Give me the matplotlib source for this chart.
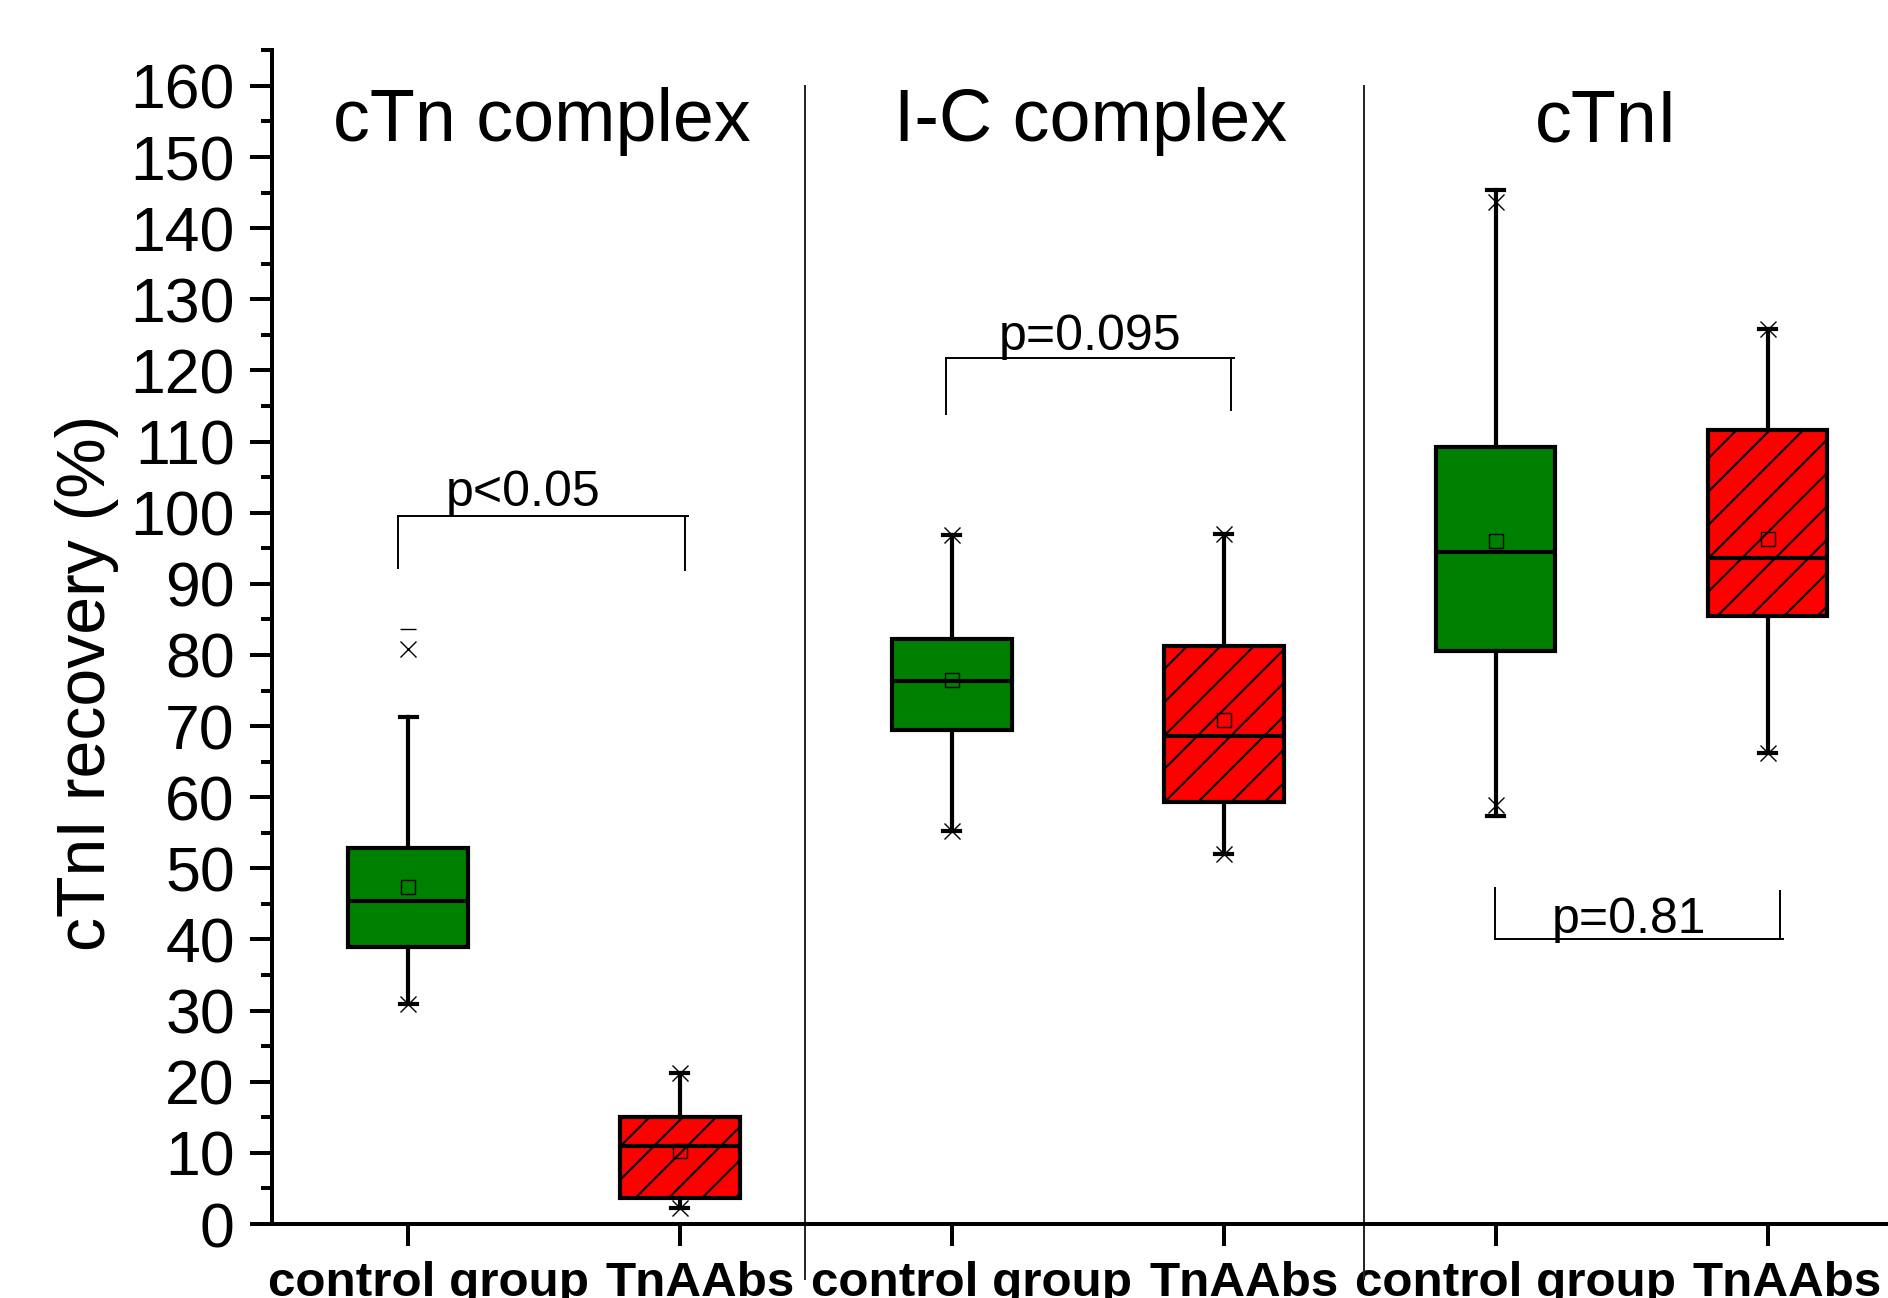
import matplotlib
matplotlib.use('Agg')
import matplotlib.pyplot as plt
import matplotlib.transforms as mtransforms
from matplotlib.ticker import MultipleLocator

plt.rcParams['font.family'] = ['Liberation Sans', 'DejaVu Sans']
plt.rcParams['hatch.linewidth'] = 0.75
plt.rcParams['hatch.color'] = 'black'

# data (cTnI recovery, %)
panels = ['cTn complex', 'I-C complex', 'cTnI']
groups = ['control group', 'TnAAbs', 'control group', 'TnAAbs', 'control group', 'TnAAbs']
positions = [1, 2, 3, 4, 5, 6]
q1 = [38.9, 3.6, 69.4, 59.3, 80.6, 85.5]
medians = [45.4, 11.0, 76.4, 68.6, 94.5, 93.6]
q3 = [52.8, 15.1, 82.3, 81.3, 109.2, 111.6]
means = [47.4, 10.2, 76.5, 70.9, 96.0, 96.3]
whis_lo = [31.0, 2.2, 55.2, 52.0, 57.4, 66.2]
whis_hi = [71.3, 21.3, 96.9, 97.0, 145.4, 125.8]
pct_lo = [31.0, 2.2, 55.2, 52.0, 58.9, 66.2]     # x markers
pct_hi = [80.9, 21.3, 96.9, 97.0, 143.7, 125.8]
extra_max_x = [1]
extra_max_y = [83.7]
box_colors = ['#008000', '#ff0000'] * 3
box_hatch = ['', '//'] * 3

# significance brackets
p_texts = ['p<0.05', 'p=0.095', 'p=0.81']
br_x0 = [0.965, 2.979, 4.998]
br_x1 = [2.028, 4.037, 6.056]
br_y = [99.6, 121.8, 40.06]
br_leg_l = [92.2, 113.9, 47.2]
br_leg_r = [91.9, 114.5, 46.8]
p_text_x = [1.425, 3.51, 5.489]
p_text_y = [101.0, 122.9, 40.9]

title_x = [1.492, 3.51, 5.409]
title_y = 152.2
dividers = [2.46, 4.517]

fig = plt.figure(figsize=(9.44, 6.49), dpi=200)
ax = fig.add_axes([0.1441, 0.0570, 0.8559, 0.9042])

stats = []
for i in range(len(positions)):
    stats.append({'med': medians[i], 'q1': q1[i], 'q3': q3[i],
                  'whislo': whis_lo[i], 'whishi': whis_hi[i],
                  'mean': means[i], 'fliers': []})

bp = ax.bxp(stats, positions=positions, widths=0.44, capwidths=0.0625,
            patch_artist=True, showmeans=True, showfliers=False,
            boxprops=dict(edgecolor='black', linewidth=1.5),
            whiskerprops=dict(color='black', linewidth=1.5),
            capprops=dict(color='black', linewidth=1.5),
            medianprops=dict(color='black', linewidth=1.5),
            meanprops=dict(marker='s', markerfacecolor='none',
                           markeredgecolor='black', markersize=4.8,
                           markeredgewidth=0.5))
for patch, c, h in zip(bp['boxes'], box_colors, box_hatch):
    patch.set_facecolor(c)
    patch.set_hatch(h)

# percentile markers (x) and max marker (-)
ax.plot(positions, pct_lo, linestyle='none', marker='x', color='black',
        markersize=6, markeredgewidth=0.5, zorder=5)
ax.plot(positions, pct_hi, linestyle='none', marker='x', color='black',
        markersize=6, markeredgewidth=0.5, zorder=5)
ax.plot(extra_max_x, extra_max_y, linestyle='none', marker='_', color='black',
        markersize=6, markeredgewidth=0.5, zorder=5)

# brackets
for i in range(3):
    ax.plot([br_x0[i], br_x1[i]], [br_y[i], br_y[i]], color='black', lw=0.7)
    ax.plot([br_x0[i], br_x0[i]], [br_y[i], br_leg_l[i]], color='black', lw=0.7)
    ax.plot([br_x1[i] - 0.01, br_x1[i] - 0.01], [br_y[i], br_leg_r[i]], color='black', lw=0.7)
    ax.text(p_text_x[i], p_text_y[i], p_texts[i], fontsize=18,
            ha='center', va='baseline')

# panel titles and dividers
for x, t in zip(title_x, panels):
    ax.text(x, title_y, t, fontsize=26.5, ha='center', va='baseline')
for d in dividers:
    ax.plot([d, d], [-7.8, 160], color='#222222', lw=0.7, clip_on=False)

ax.set_xlim(0.5, 6.443)
ax.set_ylim(0, 165)
ax.set_xticks(positions)
ax.set_xticklabels(groups, fontsize=17.8, fontweight='bold')
ax.yaxis.set_major_locator(MultipleLocator(10))
ax.yaxis.set_minor_locator(MultipleLocator(5))
ax.set_yticks(range(0, 161, 10))
ax.tick_params(axis='y', which='major', length=7.9, width=1.44,
               labelsize=22.5, pad=5.5, direction='out')
ax.tick_params(axis='y', which='minor', length=4, width=1.44, direction='out')
ax.tick_params(axis='x', which='major', length=7.9, width=1.44, pad=5.5,
               direction='out')
# labels sit a little right of their ticks in the original
# (done after tick_params, which resets the label transforms)
shift = mtransforms.ScaledTranslation(0.1, 0, fig.dpi_scale_trans)
for tick in ax.xaxis.get_major_ticks():
    tick.label1.set_transform(tick.label1.get_transform() + shift)
for s in ['top', 'right']:
    ax.spines[s].set_visible(False)
for s in ['left', 'bottom']:
    ax.spines[s].set_linewidth(1.44)

fig.text(0.0459, 0.474, 'cTnI recovery (%)', rotation=90, fontsize=24.5,
         ha='center', va='center')

fig.savefig('out.png', dpi=200, facecolor='white')
